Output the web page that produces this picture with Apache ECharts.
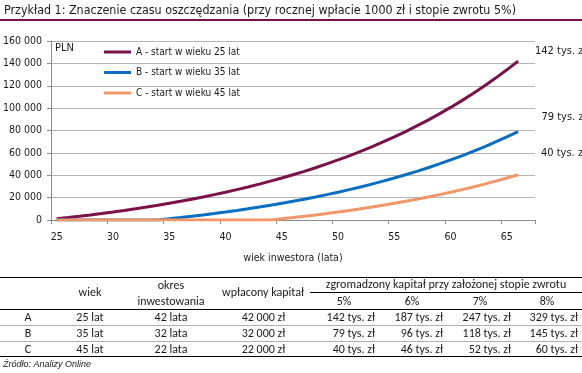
<!DOCTYPE html>
<html><head><meta charset="utf-8">
<script src="https://cdn.jsdelivr.net/npm/echarts@6/dist/echarts.min.js"></script>
<style>html,body{margin:0;padding:0;background:#fff}#c{width:582px;height:373px}</style>
</head><body><div id="c"></div>
<script>
// ---- data ----
var titleText = 'Przykład 1: Znaczenie czasu oszczędzania (przy rocznej wpłacie 1000 zł i stopie zwrotu 5%)';
var ages = [25,26,27,28,29,30,31,32,33,34,35,36,37,38,39,40,41,42,43,44,45,46,47,48,49,50,51,52,53,54,55,56,57,58,59,60,61,62,63,64,65,66,67];
var seriesNames = ['A - start w wieku 25 lat','B - start w wieku 35 lat','C - start w wieku 45 lat'];
var serieA = [1050,2150,3310,4530,5800,7140,8550,10030,11580,13210,14920,16710,18600,20580,22660,24840,27130,29540,32070,34720,37510,40430,43500,46730,50110,53670,57400,61320,65440,69760,74300,79060,84070,89320,94840,100630,106710,113100,119800,126840,134230,142000];
var serieB = [0,0,0,0,0,0,0,0,0,0,1050,2150,3310,4530,5800,7140,8550,10030,11580,13210,14920,16710,18600,20580,22660,24840,27130,29540,32070,34720,37510,40430,43500,46730,50110,53670,57400,61320,65440,69760,74300,79060];
var serieC = [0,0,0,0,0,0,0,0,0,0,0,0,0,0,0,0,0,0,0,0,1050,2150,3310,4530,5800,7140,8550,10030,11580,13210,14920,16710,18600,20580,22660,24840,27130,29540,32070,34720,37510,40430];
var endLabels = ['142 tys. zł','79 tys. zł','40 tys. zł'];
var unitLabel = 'PLN';
var xAxisName = 'wiek inwestora (lata)';
var tableHead1 = ['wiek','okres','wpłacony kapitał','zgromadzony kapitał przy założonej stopie zwrotu'];
var tableHead1b = 'inwestowania';
var rateHeads = ['5%','6%','7%','8%'];
var rowNames = ['A','B','C'];
var rowAge = ['25 lat','35 lat','45 lat'];
var rowPeriod = ['42 lata','32 lata','22 lata'];
var rowPaid = ['42 000 zł','32 000 zł','22 000 zł'];
var rowValues = [
  ['142 tys. zł','187 tys. zł','247 tys. zł','329 tys. zł'],
  ['79 tys. zł','96 tys. zł','118 tys. zł','145 tys. zł'],
  ['40 tys. zł','46 tys. zł','52 tys. zł','60 tys. zł']
];
var sourceText = 'Źródło: Analizy Online';

// ---- styles ----
var colors = ['#7B1148','#0A6FC2','#F29668'];
var din = '"DejaVu Sans Condensed", "Liberation Sans Narrow", sans-serif';
var cal = 'Carlito, Lato, sans-serif';
var txt = '#1a1a1a';
var grid = '#b4b4b4';

var chart = echarts.init(document.getElementById('c'), null, {renderer:'canvas'});

var g = [];
function T(x,y,s,font,align,fill){ g.push({type:'text', x:x, y:y, silent:true, style:{text:s, font:font, fill:fill||txt, textAlign:align||'left', textVerticalAlign:'middle'}}); }
function L(x1,y1,x2,y2,c,w){ g.push({type:'line', silent:true, shape:{x1:x1,y1:y1,x2:x2,y2:y2}, style:{stroke:c,lineWidth:w}}); }

// title
T(4, 11, titleText, '12.4px ' + din);
g.push({type:'rect', silent:true, shape:{x:0,y:19,width:582,height:2}, style:{fill:'#7B1148'}});
// PLN + end labels
T(55, 48, unitLabel, '11px ' + din);
T(535, 51.5, endLabels[0], '11px ' + din);
T(541.5, 117.5, endLabels[1], '11px ' + din);
T(541, 153.5, endLabels[2], '11px ' + din);

// table
var tf = '12px ' + cal;
L(0,277.5,582,277.5,'#000',1.2);
T(90, 293, tableHead1[0], tf, 'center');
T(171, 286, tableHead1[1], tf, 'center');
T(171, 301.5, tableHead1b, tf, 'center');
T(263, 293, tableHead1[2], tf, 'center');
T(446, 285, tableHead1[3], tf, 'center');
L(310,292.5,582,292.5,'#000',1);
var rc = [344,412,480,547];
var rr = [375,443,511,578];
for (var i=0;i<4;i++) T(rc[i], 301.5, rateHeads[i], tf, 'center');
L(0,309.5,582,309.5,'#000',1.2);
var ry = [317.5,334,349.5];
for (var r=0;r<3;r++){
  T(28, ry[r], rowNames[r], tf, 'center');
  T(90, ry[r], rowAge[r], tf, 'center');
  T(171, ry[r], rowPeriod[r], tf, 'center');
  T(263.5, ry[r], rowPaid[r], tf, 'center');
  for (var k=0;k<4;k++) T(rr[k], ry[r], rowValues[r][k], tf, 'right');
}
L(0,325.5,582,325.5,'#b0b0b0',1);
L(0,341.5,582,341.5,'#b0b0b0',1);
L(0,356.5,582,356.5,'#000',1.2);
T(3, 364, sourceText, 'italic 9px "Liberation Sans Narrow", sans-serif');

function mk(name, data, c){
  return {type:'line', name:name, data:data, symbol:'none', showSymbol:false, smooth:false,
    lineStyle:{color:c, width:3}, itemStyle:{color:c}, emphasis:{disabled:true}, animation:false};
}

chart.setOption({
  animation:false,
  color: colors,
  grid:{left:50, right:47, top:41, bottom:153, containLabel:false},
  legend:{orient:'vertical', left:99, top:41, itemWidth:27, itemHeight:3, icon:'rect', itemGap:8.5,
    textStyle:{fontFamily:din, fontSize:10, color:txt, lineHeight:12}, selectedMode:false,
    data:seriesNames},
  xAxis:{type:'category', data:ages, boundaryGap:true,
    name:xAxisName, nameLocation:'middle', nameGap:33,
    nameTextStyle:{fontFamily:din, fontSize:10.5, color:txt},
    axisLine:{lineStyle:{color:'#8c8c8c', width:1}},
    axisTick:{show:true, interval:4, length:4, lineStyle:{color:'#8c8c8c'}},
    axisLabel:{interval:4, margin:12, fontFamily:din, fontSize:10.5, color:txt},
    splitLine:{show:false}},
  yAxis:{type:'value', min:0, max:160000, interval:20000,
    axisLine:{show:true, lineStyle:{color:'#8c8c8c', width:1}},
    axisTick:{show:true, length:4, lineStyle:{color:'#8c8c8c'}},
    axisLabel:{margin:9, fontFamily:din, fontSize:10.5, color:txt,
      formatter:function(v){ return String(v).replace(/\B(?=(\d{3})+(?!\d))/g,' '); }},
    splitLine:{show:true, lineStyle:{color:grid, width:1}}},
  series:[mk(seriesNames[0], serieA, colors[0]), mk(seriesNames[1], serieB, colors[1]), mk(seriesNames[2], serieC, colors[2])],
  graphic: g
});
</script></body></html>
